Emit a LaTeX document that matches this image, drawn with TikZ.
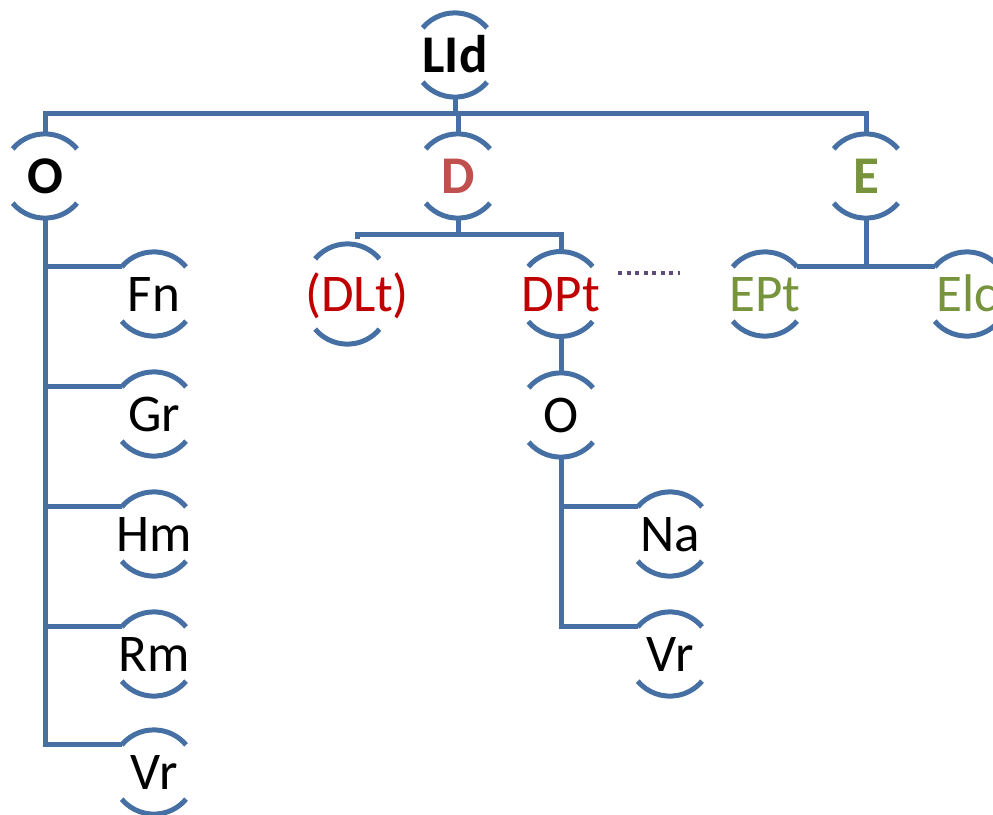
\documentclass[tikz,border=0pt]{standalone}
\usepackage{fontspec}
\setmainfont{Carlito}
\definecolor{lineblue}{RGB}{70,112,164}
\definecolor{dred}{RGB}{192,80,77}
\definecolor{deepred}{RGB}{192,0,0}
\definecolor{egreen}{RGB}{119,147,60}
\definecolor{dotpurple}{RGB}{96,74,123}
\tikzset{
  tnode/.style={circle, minimum size=84pt, inner sep=0pt, text height=34pt, text depth=0pt,
    font=\fontsize{53}{63}\selectfont},
  bnode/.style={tnode, font=\fontsize{53}{63}\selectfont\bfseries},
  conn/.style={draw=lineblue, line width=5pt},
  arcline/.style={draw=lineblue, line width=5pt},
  dotline/.style={draw=dotpurple, line width=4pt, dash pattern=on 4pt off 4.5pt}
}
\begin{document}
\begin{tikzpicture}[x=1pt,y=-1pt]
\useasboundingbox (0,0) rectangle (993,814);
\clip (0,0) rectangle (993,814);
% nodes
\node[bnode] (lid) at (455,55) {LId};
\node[bnode] (o1) at (45,176) {O};
\node[bnode, text=dred] (d1) at (458,176) {D};
\node[bnode, text=egreen] (e1) at (866,176) {E};
\node[tnode] (fn) at (154,294) {Fn};
\node[tnode] (gr) at (154,414) {Gr};
\node[tnode] (hm) at (154,534) {Hm};
\node[tnode] (rm) at (154,654) {Rm};
\node[tnode] (vr1) at (154,772) {Vr};
\node[tnode, text=deepred] (dlt) at (357,294) {(DLt)};
\node[tnode, text=deepred] (dpt) at (561,294) {DPt};
\node[tnode, text=egreen] (ept) at (765,294) {EPt};
\node[tnode, text=egreen] (elc) at (967,294) {Elc};
\node[tnode] (o2) at (561,415) {O};
\node[tnode] (na) at (670,534) {Na};
\node[tnode] (vr2) at (670,654) {Vr};
% arcs
\foreach \n in {lid,o1,d1,e1,fn,gr,hm,rm,vr1,dlt,dpt,ept,elc,o2,na,vr2}{
  \draw[arcline] (\n.140) arc[start angle=140, end angle=40, radius=42pt];
  \draw[arcline] (\n.-140) arc[start angle=-140, end angle=-40, radius=42pt];
}
% top level
\coordinate (bar) at (0,113);
\draw[conn] (lid.south) -- (lid.south |- bar);
\draw[conn] (o1.north) -- (o1.north |- bar) -- (e1.north |- bar) -- (e1.north);
\draw[conn] (d1.north) -- (d1.north |- bar);
% O children
\draw[conn] (o1.south) |- (vr1.140);
\foreach \c in {fn,gr,hm,rm}{
  \draw[conn] (\c.140) -- (\c.140 -| o1.south);
}
% D children
\coordinate (dbar) at (0,234);
\draw[conn] (d1.south) -- (d1.south |- dbar);
\draw[conn] (dlt.north) -- (dlt.north |- dbar) -- (dpt.north |- dbar) -- (dpt.north);
\coordinate (dotA) at (618,273);
\coordinate (dotB) at (680,273);
\draw[dotline] (dotA) -- (dotB);
% E children
\draw[conn] (e1.south) -- (e1.south |- ept.40);
\draw[conn] (ept.40) -- (elc.140);
% DPt - O
\draw[conn] (dpt.south) -- (o2.north);
\draw[conn] (o2.south) |- (vr2.140);
\draw[conn] (na.140) -- (na.140 -| o2.south);
\end{tikzpicture}
\end{document}
